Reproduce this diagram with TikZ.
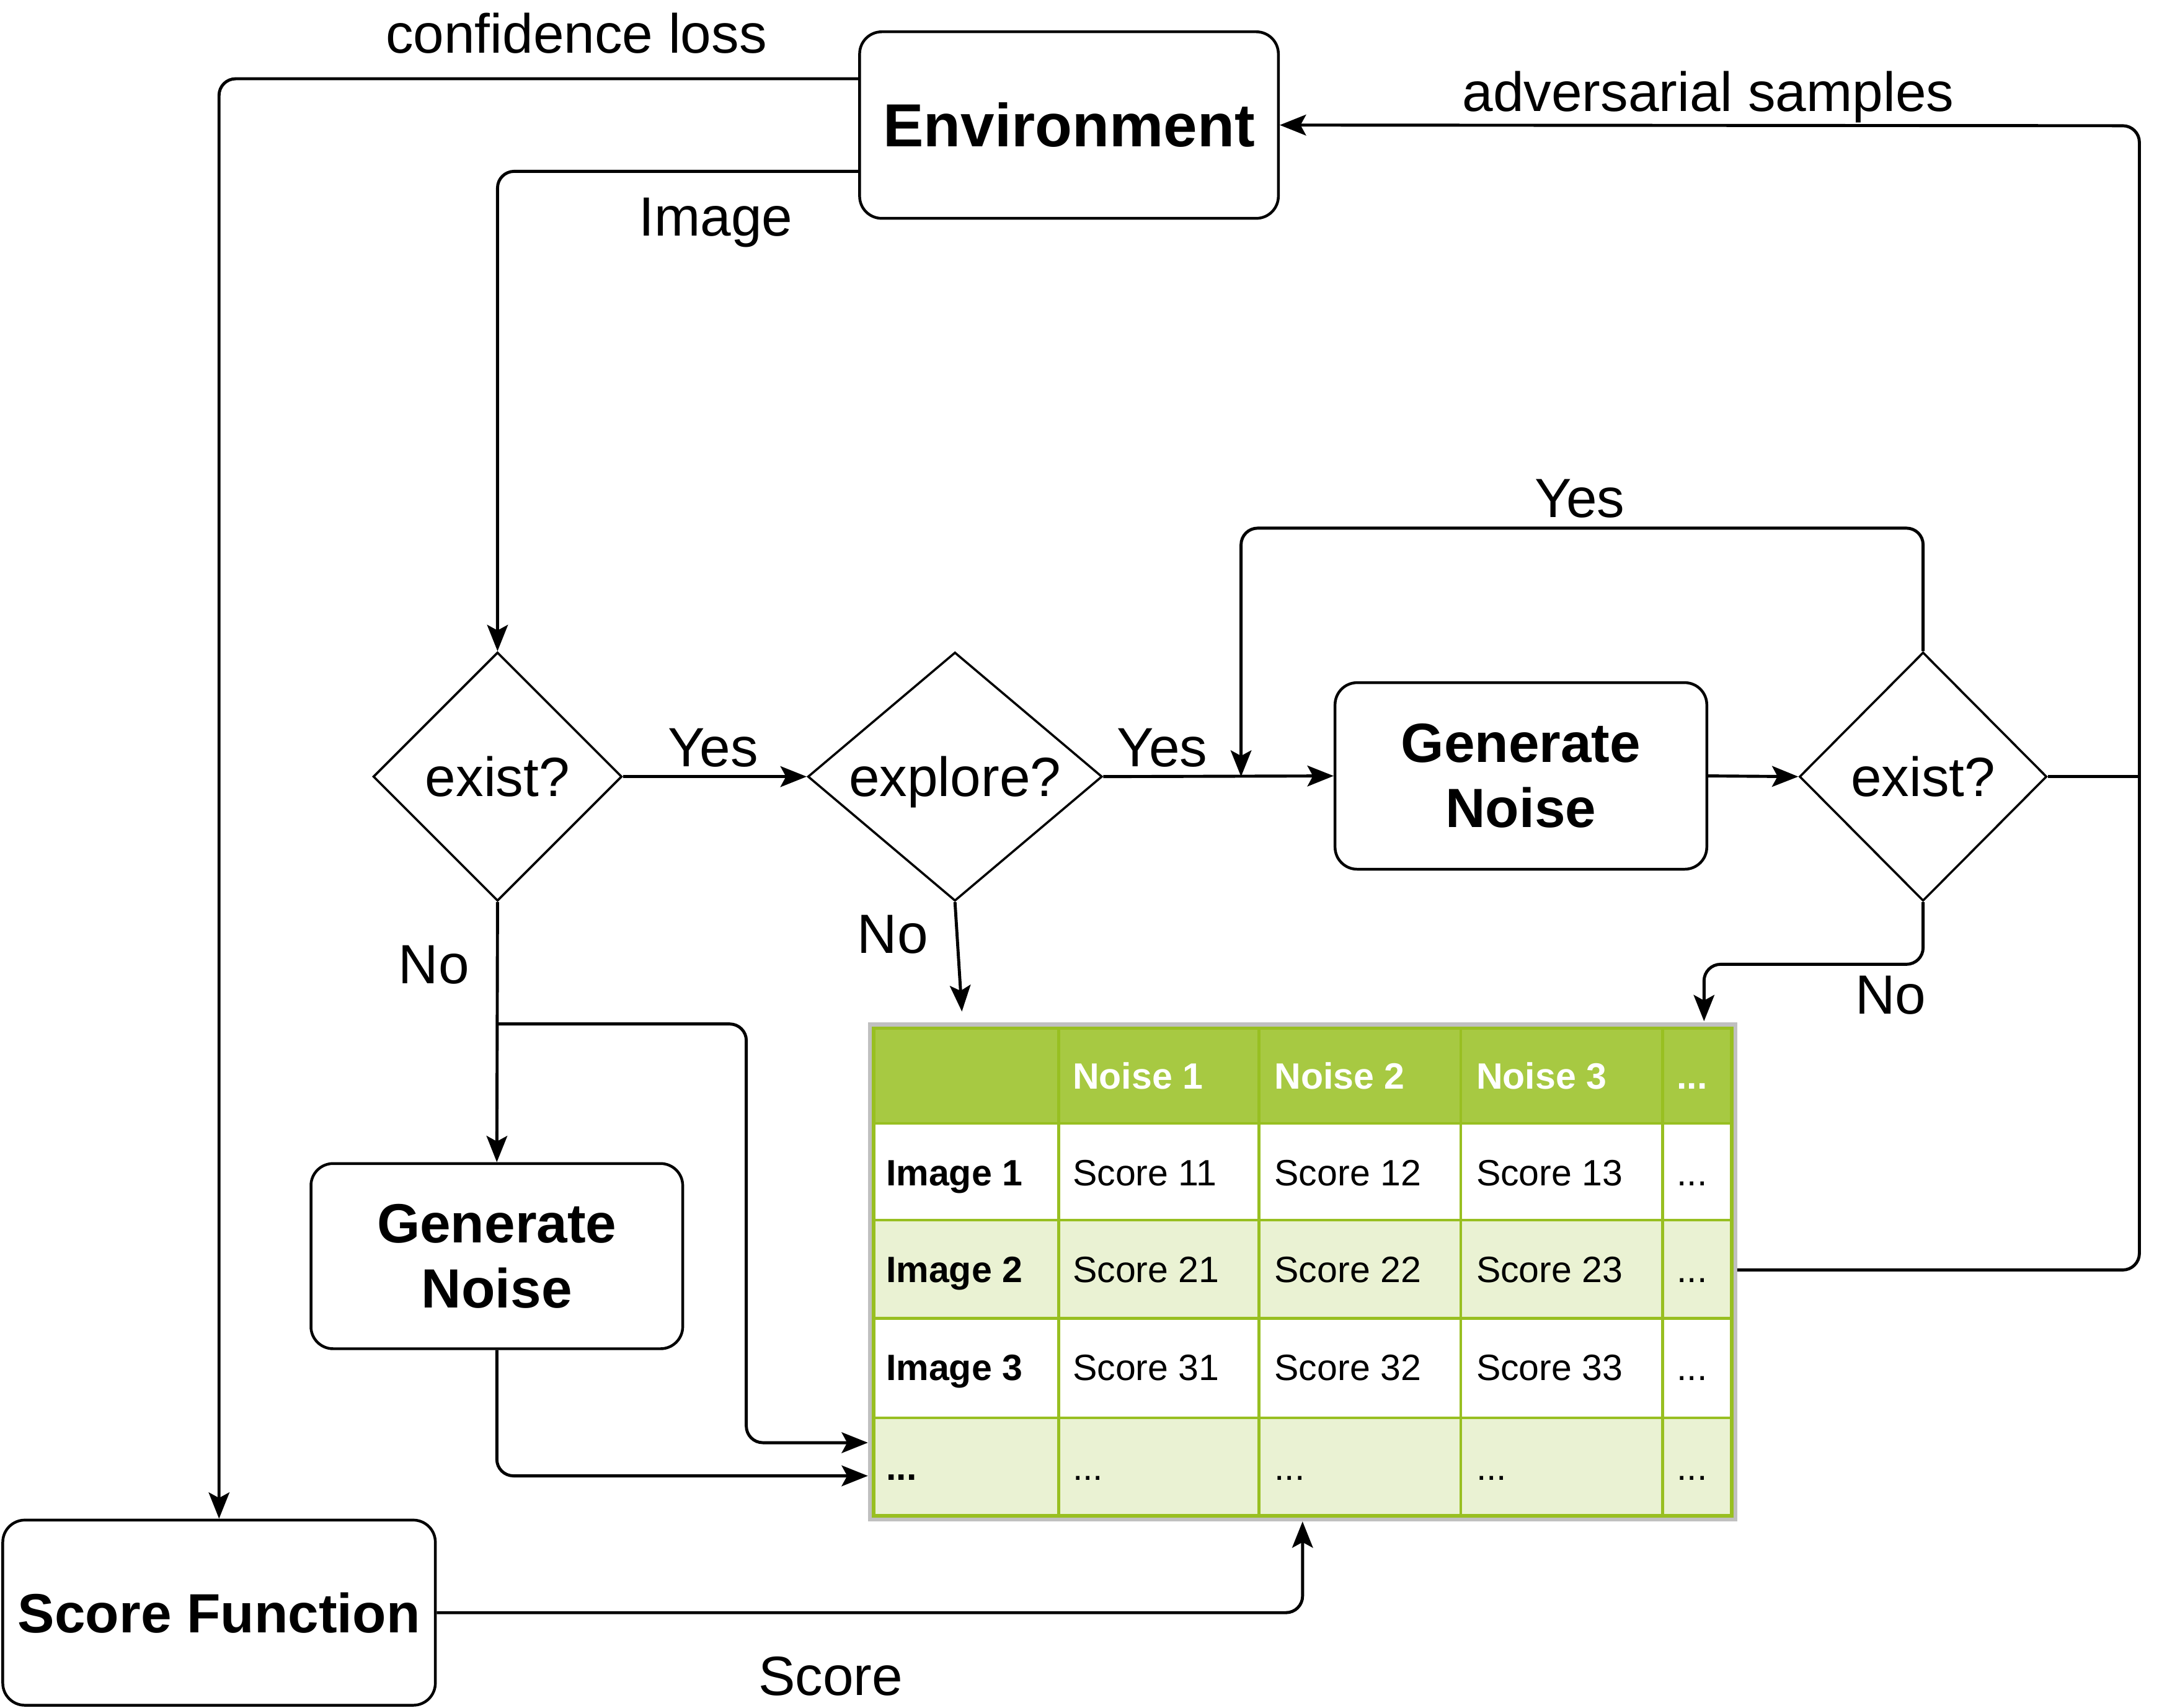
\documentclass[tikz,border=0pt]{standalone}
\usepackage{fontspec}
\setmainfont{Liberation Sans}
\usetikzlibrary{shapes.geometric,arrows.meta,calc}
\definecolor{hdr}{HTML}{A7C942}
\definecolor{grn}{HTML}{98BF21}
\definecolor{alt}{HTML}{EAF2D3}
\definecolor{gry}{HTML}{C0C0C0}
\newcommand{\dts}{...}
\begin{document}
\begin{tikzpicture}[x=1pt,y=-1pt,
 box/.style={draw, line width=2pt, rounded corners=16pt, align=center, font=\fontsize{40}{47}\selectfont\bfseries, inner sep=0pt},
 dia/.style={draw, diamond, line width=1.6pt, inner sep=0pt},
 lbl/.style={font=\fontsize{40}{47}\selectfont, inner sep=0pt},
 conn/.style={line width=2.2pt, rounded corners=12pt, -{Stealth[length=19pt,width=15pt,inset=4pt]}},
 plain/.style={line width=2.2pt, rounded corners=12pt},
 cell/.style={font=\fontsize{26.5}{30}\selectfont, anchor=base west, inner sep=0pt},
 hcell/.style={cell, font=\fontsize{26.5}{30}\selectfont\bfseries, text=white},
 bcell/.style={cell, font=\fontsize{26.5}{30}\selectfont\bfseries},
]
\useasboundingbox (0,0) rectangle (1568,1236);

% boxes
\node[box, minimum width=303pt, minimum height=135pt] (env) at (773.5,90.5) {\fontsize{44}{50}\selectfont Environment};
\node[box, minimum width=313pt, minimum height=134pt] (sf) at (158.5,1167) {Score Function};
\node[box, minimum width=269pt, minimum height=134pt] (gn1) at (359.5,909) {Generate\\Noise};
\node[box, minimum width=269pt, minimum height=135pt] (gn2) at (1100.5,561.5) {Generate\\Noise};

% diamonds
\node[dia, minimum width=180pt, minimum height=180pt] (ex1) at (360,562) {};
\node[lbl] (ex1t) at (ex1) {exist?};
\node[dia, minimum width=213pt, minimum height=180pt] (expl) at (691,562) {};
\node[lbl] (explt) at (691,566) {explore?};
\node[dia, minimum width=179pt, minimum height=180pt] (ex2) at (1391.5,562) {};
\node[lbl] (ex2t) at (ex2) {exist?};

% table
\node[draw=gry, line width=3pt, minimum width=626pt, minimum height=358pt, inner sep=0pt] (tbl) at (942.5,920.5) {};
\fill[hdr] (631,743) rectangle (1254,813);
\fill[white] (631,813) rectangle (1254,883);
\fill[alt] (631,883) rectangle (1254,954);
\fill[white] (631,954) rectangle (1254,1026);
\fill[alt] (631,1026) rectangle (1254,1098);
\foreach \yy in {813,883,954,1026} \draw[grn, line width=2pt] (631,\yy) -- (1254,\yy);
\foreach \xx in {766,911,1057,1203} \draw[grn, line width=2pt] (\xx,743) -- (\xx,1098);
\draw[grn, line width=2.5pt] (632,744) rectangle (1253,1097);

\node[hcell] (h1) at (776,788) {Noise 1};
\node[hcell] (h2) at (922,788) {Noise 2};
\node[hcell] (h3) at (1068,788) {Noise 3};
\node[hcell] (h4) at (1213,788) {\dts};

\node[bcell] (r1) at (641,858) {Image 1};
\node[cell] (s11) at (776,858) {Score 11};
\node[cell] (s12) at (922,858) {Score 12};
\node[cell] (s13) at (1068,858) {Score 13};
\node[cell] (s14) at (1213,858) {\dts};

\node[bcell] (r2) at (641,928) {Image 2};
\node[cell] (s21) at (776,928) {Score 21};
\node[cell] (s22) at (922,928) {Score 22};
\node[cell] (s23) at (1068,928) {Score 23};
\node[cell] (s24) at (1213,928) {\dts};

\node[bcell] (r3) at (641,999) {Image 3};
\node[cell] (s31) at (776,999) {Score 31};
\node[cell] (s32) at (922,999) {Score 32};
\node[cell] (s33) at (1068,999) {Score 33};
\node[cell] (s34) at (1213,999) {\dts};

\node[bcell] (r4) at (641,1071) {\dts};
\node[cell] (s41) at (776,1071) {\dts};
\node[cell] (s42) at (922,1071) {\dts};
\node[cell] (s43) at (1068,1071) {\dts};
\node[cell] (s44) at (1213,1071) {\dts};

% coordinates
\coordinate (j1) at (898,562);
\coordinate (t2) at (1233,739);
\coordinate (t1) at (696,732);
\coordinate (b1) at (360,741);
\coordinate (rr) at (1548,562);

% connectors
\draw[conn] (env.west |- 0,57) -| (sf.north);
\draw[conn] (env.west |- 0,124) -| (ex1.north);
\draw[conn] (ex1.east) -- (expl.west);
\draw[conn] (expl.east) -- (gn2.west);
\draw[conn] (gn2.east) -- (ex2.west);
\draw[conn] (ex2.north) -- ++(0,-89) -| (j1);
\draw[conn] (ex2.south) -- ++(0,45) -| (t2);
\draw[conn] (expl.south) -- (t1);
\draw[conn] (ex1.south) -- (gn1.north);
\draw[conn] (b1) -| (540,1044) -- (tbl.west |- 0,1044);
\draw[conn] (gn1.south) |- (tbl.west |- 0,1068);
\draw[conn] (sf.east) -| (tbl.south);
\draw[conn] (tbl.east |- 0,919) -| (1548,91) -- (env.east);
\draw[plain] (ex2.east) -- (rr);

% labels
\node[lbl] (lconf) at (417,24) {confidence loss};
\node[lbl] (limg) at (518,161) {Image};
\node[lbl] (ly1) at (516,541) {Yes};
\node[lbl] (ly2) at (841,541) {Yes};
\node[lbl] (ly3) at (1143,361) {Yes};
\node[lbl] (ln1) at (314,698) {No};
\node[lbl] (ln2) at (646,676) {No};
\node[lbl] (ln3) at (1368,720) {No};
\node[lbl] (lsc) at (601,1213) {Score};
\node[lbl] (ladv) at (1236,70) {adversarial samples};
\end{tikzpicture}
\end{document}
